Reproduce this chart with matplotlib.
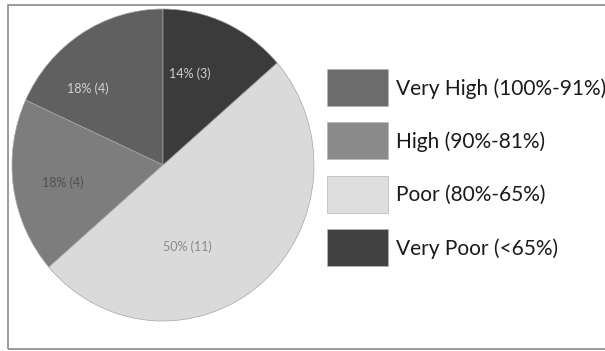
import matplotlib
matplotlib.use("Agg")
import matplotlib.pyplot as plt
from matplotlib.patches import Rectangle
import numpy as np

# Data
categories = ["Very High (100%-91%)", "High (90%-81%)", "Poor (80%-65%)", "Very Poor (<65%)"]
counts = [4, 4, 11, 3]
percent_labels = ["18% (4)", "18% (4)", "50% (11)", "14% (3)"]

# Styling
slice_colors = ["#606060", "#7d7d7d", "#dadada", "#3b3b3b"]
legend_colors = ["#6c6c6c", "#8a8a8a", "#dedede", "#404040"]
label_colors = ["#d2d2d2", "#505050", "#8a8a8a", "#cfcfcf"]
# label placement (angle in degrees, radius as fraction of pie radius)
label_polar = [(135.6, 0.70), (189.5, 0.67), (287.0, 0.55), (72.8, 0.61)]
FONT = ["Lato", "DejaVu Sans"]

W, H = 605, 351
fig = plt.figure(figsize=(W / 100, H / 100), dpi=100)
fig.patch.set_facecolor("white")

# pie axes: slightly taller than wide
cx, cy, rx, ry = 163, 165, 151, 156
ax = fig.add_axes([(cx - rx) / W, (H - cy - ry) / H, 2 * rx / W, 2 * ry / H])
wedges, _ = ax.pie(
    counts,
    colors=slice_colors,
    startangle=90,
    counterclock=True,
    radius=1.0,
    wedgeprops=dict(edgecolor="#a5a5a5", linewidth=0.5),
)
ax.set_aspect("auto")
ax.set_xlim(-1, 1)
ax.set_ylim(-1, 1)
ax.axis("off")

for txt, col, (ang, r) in zip(percent_labels, label_colors, label_polar):
    a = np.deg2rad(ang)
    ax.text(r * np.cos(a), r * np.sin(a), txt, ha="center", va="center",
            fontsize=9, color=col, family=FONT)

# legend: swatches and labels in figure pixels
sw_x, sw_w, sw_h = 327, 61, 37
row_top0, row_step = 69, 53.3
text_x = 396
for i, (lab, col) in enumerate(zip(categories, legend_colors)):
    top = row_top0 + i * row_step
    fig.patches.append(Rectangle((sw_x / W, 1 - (top + sw_h) / H), sw_w / W, sw_h / H,
                                 transform=fig.transFigure, facecolor=col,
                                 edgecolor="#b5b5b5", linewidth=0.5))
    fig.text(text_x / W, 1 - (top + sw_h / 2 + 1) / H, lab, ha="left", va="center",
             fontsize=15, color="#1a1a1a", family=FONT)

# outer frame
fig.patches.append(Rectangle((8 / W, 1 - 349 / H), (W + 10) / W, (349 - 5) / H,
                             transform=fig.transFigure, fill=False,
                             edgecolor="#8a8a8a", linewidth=1.2))

fig.savefig("out.png", dpi=100, facecolor="white")
